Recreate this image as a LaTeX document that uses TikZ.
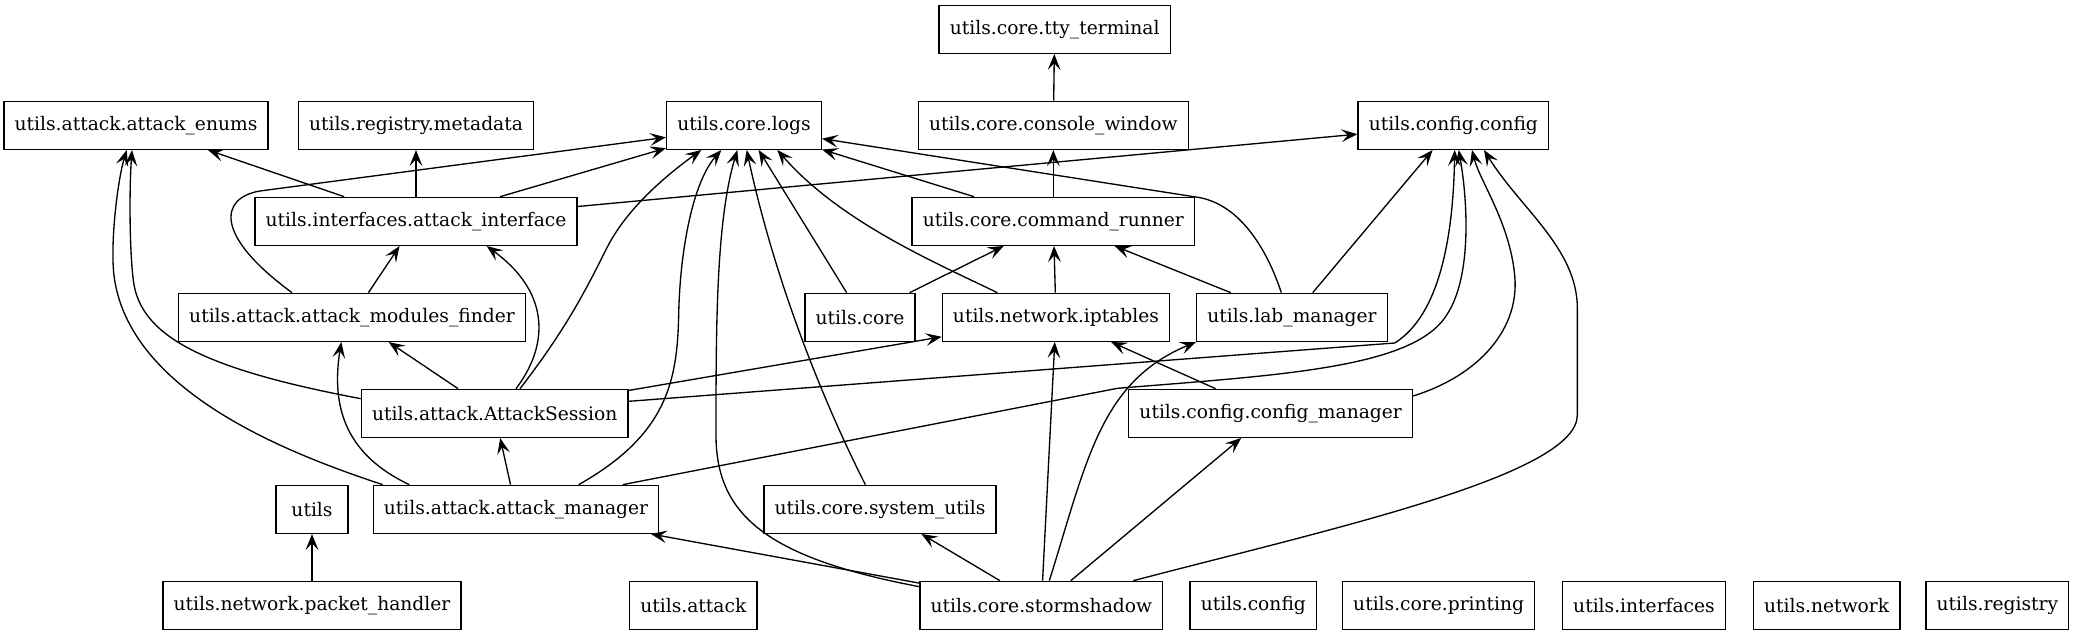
\documentclass[tikz,border=0pt]{standalone}
\usepackage{fontspec}
\setmainfont{DejaVu Serif}
\usetikzlibrary{arrows.meta}
\begin{document}
\begin{tikzpicture}[x=1pt, y=1pt, line width=1pt, >={Stealth[length=12pt, width=9.5pt, inset=5pt]},
    mod/.style={rectangle, draw, line width=1pt, minimum height=36pt, minimum width=54pt, inner xsep=8pt, font=\fontsize{14pt}{16pt}\selectfont}]
    \useasboundingbox (0,0) rectangle (1554.75,476.25);
    \node[mod] (tty) at (791,454.25) {utils.core.tty\_terminal};
    \node[mod] (enums) at (102,382.25) {utils.attack.attack\_enums};
    \node[mod] (meta) at (312,382.25) {utils.registry.metadata};
    \node[mod] (logs) at (558,382.25) {utils.core.logs};
    \node[mod] (console) at (790,382.25) {utils.core.console\_window};
    \node[mod] (config) at (1090,382.25) {utils.config.config};
    \node[mod] (iface) at (312,310.25) {utils.interfaces.attack\_interface};
    \node[mod] (runner) at (790,310.25) {utils.core.command\_runner};
    \node[mod] (finder) at (264,238.25) {utils.attack.attack\_modules\_finder};
    \node[mod] (core) at (645,238.25) {utils.core};
    \node[mod] (iptables) at (792,238.25) {utils.network.iptables};
    \node[mod] (lab) at (969,238.25) {utils.lab\_manager};
    \node[mod] (session) at (371,166.25) {utils.attack.AttackSession};
    \node[mod] (cfgmgr) at (953,166.25) {utils.config.config\_manager};
    \node[mod] (utils) at (234,94.25) {utils};
    \node[mod] (attmgr) at (387,94.25) {utils.attack.attack\_manager};
    \node[mod] (sysutils) at (660,94.25) {utils.core.system\_utils};
    \node[mod] (packet) at (234,22.25) {utils.network.packet\_handler};
    \node[mod] (attack) at (520,22.25) {utils.attack};
    \node[mod] (storm) at (781,22.25) {utils.core.stormshadow};
    \node[mod] (pconfig) at (940,22.25) {utils.config};
    \node[mod] (printing) at (1079,22.25) {utils.core.printing};
    \node[mod] (ifaces) at (1233,22.25) {utils.interfaces};
    \node[mod] (network) at (1370,22.25) {utils.network};
    \node[mod] (registry) at (1498,22.25) {utils.registry};
    \draw[->] (console) -- (tty);
    \draw[->] (runner) -- (console);
    \draw[->] (runner) -- (logs);
    \draw[->] (iface) -- (enums);
    \draw[->] (iface) -- (meta);
    \draw[->] (iface) -- (logs);
    \draw[->] (iface) -- (config);
    \draw[->] (finder) -- (iface);
    \draw[->] ([xshift=-45pt]finder.north) .. controls (160,300) and (165,328) .. (195,333) -- ([yshift=-9pt]logs.west);
    \draw[->] ([xshift=-10pt]core.north) -- ([xshift=11pt]logs.south);
    \draw[->] (core) -- (runner);
    \draw[->] ([xshift=-44pt]iptables.north) .. controls (700,280) and (630,310) .. ([xshift=25pt]logs.south);
    \draw[->] (iptables) -- (runner);
    \draw[->] (lab) -- (runner);
    \draw[->] ([xshift=-8pt]lab.north) .. controls (950,290) and (930,322) .. (900,328) -- ([yshift=-10pt]logs.east);
    \draw[->] (lab) -- (config);
    \draw[->] (session) -- (finder);
    \draw[->] ([xshift=16pt]session.north) .. controls (410,215) and (415,255) .. ([xshift=53pt]iface.south);
    \draw[->] ([xshift=19pt]session.north) .. controls (425,230) and (440,260) .. (455,290) .. controls (470,320) and (500,345) .. ([xshift=-32pt]logs.south);
    \draw[->] ([yshift=11pt]session.west) .. controls (150,200) and (105,225) .. (100,266) .. controls (97,290) and (97,335) .. ([xshift=-3pt]enums.south);
    \draw[->] (session) -- (iptables);
    \draw[->] ([yshift=9pt]session.east) -- (1046,219) .. controls (1080,240) and (1090,300) .. ([xshift=1pt]config.south);
    \draw[->] (cfgmgr) -- (iptables);
    \draw[->] ([yshift=13pt]cfgmgr.east) .. controls (1110,195) and (1140,230) .. (1136,270) .. controls (1132,310) and (1110,340) .. ([xshift=14pt]config.south);
    \draw[->] (attmgr) -- (session);
    \draw[->] ([xshift=-80pt]attmgr.north) .. controls (260,135) and (248,170) .. ([xshift=-8pt]finder.south);
    \draw[->] ([xshift=-100pt]attmgr.north) .. controls (220,135) and (100,180) .. (86,266) .. controls (82,290) and (88,340) .. ([xshift=-7pt]enums.south);
    \draw[->] ([xshift=47pt]attmgr.north) .. controls (500,150) and (508,190) .. (509,240) .. controls (510,290) and (520,340) .. ([xshift=-17pt]logs.south);
    \draw[->] ([xshift=80pt]attmgr.north) -- (838,185) .. controls (960,195) and (1060,200) .. (1085,240) .. controls (1105,270) and (1100,330) .. ([xshift=4pt]config.south);
    \draw[->] ([xshift=-11pt]sysutils.north) .. controls (615,180) and (580,270) .. ([xshift=2pt]logs.south);
    \draw[->] (packet) -- (utils);
    \draw[->] (storm) -- (attmgr);
    \draw[->] (storm) -- (sysutils);
    \draw[->] ([yshift=14pt]storm.west) .. controls (575,58) and (537,90) .. (537,150) .. controls (537,230) and (537,310) .. ([xshift=-5pt]logs.south);
    \draw[->] (storm) -- (iptables);
    \draw[->] ([xshift=6pt]storm.north) .. controls (815,130) and (825,190) .. (lab.south west);
    \draw[->] (storm) -- (cfgmgr);
    \draw[->] ([xshift=69pt]storm.north) .. controls (1000,80) and (1183,120) .. (1183,165) -- (1183,245) .. controls (1183,290) and (1140,320) .. ([xshift=23pt]config.south);
\end{tikzpicture}
\end{document}
